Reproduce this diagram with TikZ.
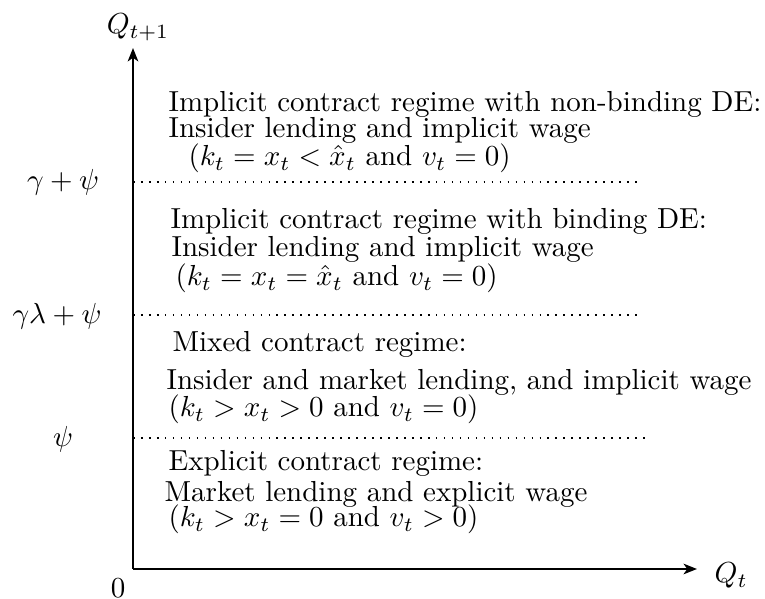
\documentclass[tikz,border=0pt]{standalone}
\usetikzlibrary{arrows.meta}
\begin{document}
\begin{tikzpicture}[x=0.345pt,y=-0.345pt,
  axis/.style={line width=0.7pt,-{Stealth[length=4.6pt,width=3.6pt,inset=1.2pt]}},
  dotline/.style={line width=0.55pt,dash pattern=on 0.55pt off 2.2pt},
  txt/.style={anchor=base west,inner sep=0pt},
  lbl/.style={inner sep=0pt}]
\useasboundingbox (0,0) rectangle (765,599);
% axes
\coordinate (O) at (133,569);
\coordinate (ytip) at (133,48);
\coordinate (xtip) at (697,569);
\draw[axis] (O) -- (ytip);
\draw[axis] (O) -- (xtip);
\node[lbl,anchor=base] (qy) at (138,34) {$Q_{t+1}$};
\node[lbl,anchor=base west] (qx) at (714,583) {$Q_t$};
\node[lbl] (zero) at (118,588) {$0$};
% thresholds
\node[lbl] (l1) at (63,182) {$\gamma+\psi$};
\node[lbl] (l2) at (57,316) {$\gamma\lambda+\psi$};
\node[lbl] (l3) at (63,439) {$\psi$};
\coordinate (a1) at (133,182); \coordinate (b1) at (643,182);
\coordinate (a2) at (133,315); \coordinate (b2) at (637,315);
\coordinate (a3) at (133,438); \coordinate (b3) at (645,438);
\draw[dotline] (a1) -- (b1);
\draw[dotline] (a2) -- (b2);
\draw[dotline] (a3) -- (b3);
% regime texts
\node[txt] (t1) at (168,112) {Implicit contract regime with non-binding DE:};
\node[txt] (t2) at (168,138) {Insider lending and implicit wage};
\node[txt] (t3) at (188,166) {$(k_t=x_t<\hat{x}_t$ and $v_t=0)$};
\node[txt] (t4) at (170,229) {Implicit contract regime with binding DE:};
\node[txt] (t5) at (171,257) {Insider lending and implicit wage};
\node[txt] (t6) at (175,286) {$(k_t=x_t=\hat{x}_t$ and $v_t=0)$};
\node[txt] (t7) at (172,352) {Mixed contract regime:};
\node[txt] (t8) at (166,390) {Insider and market lending, and implicit wage};
\node[txt] (t9) at (168,417) {$(k_t>x_t>0$ and $v_t=0)$};
\node[txt] (t10) at (168,471) {Explicit contract regime:};
\node[txt] (t11) at (164,502) {Market lending and explicit wage};
\node[txt] (t12) at (168,527) {$(k_t>x_t=0$ and $v_t>0)$};
\end{tikzpicture}
\end{document}
